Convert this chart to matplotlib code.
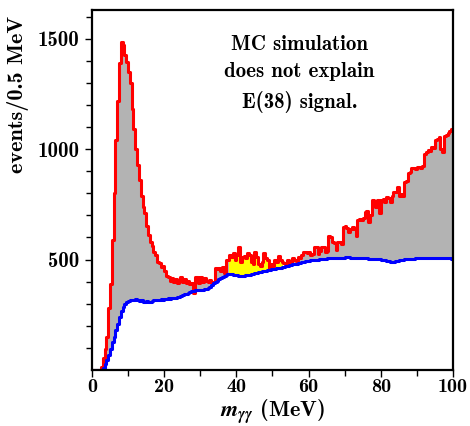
import matplotlib

matplotlib.use("Agg")
import matplotlib.pyplot as plt
import numpy as np

# histogram, 0.5 MeV bins from 0 to 100 MeV
BIN_WIDTH = 0.5
edges = np.arange(0, 100 + BIN_WIDTH, BIN_WIDTH)

data_counts = [
    # 0-10
    0, 0, 0, 0, 0, 15, 55, 95, 150, 280, 390, 590, 800, 1040, 1220, 1390, 1485, 1470, 1425, 1395,
    # 10-20
    1350, 1300, 1180, 1090, 1000, 930, 860, 790, 740, 710, 650, 610, 580, 560, 535, 520, 490, 485, 468, 470,
    # 20-30
    450, 425, 420, 405, 418, 400, 412, 395, 408, 420, 398, 410, 395, 402, 390, 395, 350, 420, 422, 395,
    # 30-40
    420, 400, 415, 405, 400, 408, 398, 400, 462, 455, 462, 450, 465, 440, 500, 498, 520, 510, 530, 500,
    # 40-50
    520, 555, 490, 512, 515, 505, 530, 520, 490, 480, 535, 510, 478, 470, 490, 530, 505, 498, 455, 480,
    # 50-60
    470, 500, 490, 515, 500, 490, 485, 480, 500, 476, 490, 505, 500, 495, 510, 505, 520, 535, 535, 530,
    # 60-70
    535, 520, 525, 558, 555, 525, 540, 558, 556, 535, 540, 605, 600, 580, 575, 545, 580, 578, 570, 648,
    # 70-80
    650, 645, 625, 640, 648, 640, 605, 680, 685, 680, 690, 715, 718, 670, 700, 770, 765, 740, 770, 710,
    # 80-90
    770, 775, 760, 785, 780, 760, 790, 805, 808, 830, 790, 795, 790, 850, 855, 890, 895, 915, 915, 910,
    # 90-100
    918, 920, 915, 922, 980, 985, 995, 990, 1010, 1005, 1040, 1045, 1055, 1000, 985, 1060, 1065, 1075, 1080, 1090,
]

mc_counts = [
    # 0-10
    0, 0, 0, 0, 0, 0, 8, 25, 45, 70, 95, 125, 150, 180, 210, 240, 265, 285, 298, 308,
    # 10-20
    312, 315, 318, 315, 320, 316, 312, 315, 310, 308, 312, 308, 310, 313, 315, 316, 318, 316, 320, 318,
    # 20-30
    322, 320, 324, 322, 325, 326, 328, 330, 332, 335, 340, 344, 346, 350, 354, 356, 358, 360, 362, 364,
    # 30-40
    362, 364, 366, 368, 372, 378, 385, 392, 398, 404, 410, 416, 420, 425, 430, 433, 436, 435, 432, 430,
    # 40-50
    428, 426, 425, 424, 425, 428, 430, 432, 434, 436, 438, 440, 442, 444, 446, 448, 450, 452, 453, 455,
    # 50-60
    456, 458, 460, 462, 464, 466, 468, 470, 472, 474, 476, 478, 480, 482, 484, 486, 488, 490, 492, 494,
    # 60-70
    495, 496, 497, 498, 499, 500, 501, 502, 503, 504, 505, 506, 506, 507, 507, 508, 508, 508, 509, 509,
    # 70-80
    510, 510, 510, 509, 509, 508, 508, 507, 507, 506, 506, 505, 505, 504, 504, 503, 503, 502, 502, 501,
    # 80-90
    500, 498, 496, 494, 492, 490, 490, 491, 493, 495, 496, 498, 500, 501, 502, 503, 503, 504, 504, 505,
    # 90-100
    505, 506, 506, 507, 507, 508, 508, 509, 508, 508, 507, 507, 508, 508, 508, 507, 506, 505, 505, 504,
]

SIGNAL_RANGE = (38.0, 53.0)  # excess region highlighted in yellow

plt.rcParams["font.family"] = ["cmb10", "DejaVu Serif"]
plt.rcParams["mathtext.fontset"] = "custom"
plt.rcParams["mathtext.rm"] = "cmb10"
plt.rcParams["mathtext.it"] = "STIXGeneral:italic:bold"
plt.rcParams["axes.unicode_minus"] = False

data = np.append(np.array(data_counts, float), data_counts[-1])
mc = np.append(np.array(mc_counts, float), mc_counts[-1])

fig = plt.figure(figsize=(4.70, 4.26), dpi=100)
ax = fig.add_axes([0.1957, 0.1315, 0.7681, 0.8450])

in_sig = (edges >= SIGNAL_RANGE[0]) & (edges <= SIGNAL_RANGE[1])
ax.fill_between(edges, mc, data, where=~in_sig | (edges == SIGNAL_RANGE[0]),
                step="post", color="#b3b3b3", linewidth=0)
ax.fill_between(edges, mc, data, where=in_sig, step="post",
                color="#ffff00", linewidth=0)
ax.step(edges, data, where="post", color="#ff0000", linewidth=2.2)
ax.step(edges, mc, where="post", color="#0000ff", linewidth=2.2)

ax.set_xlim(0, 100)
ax.set_ylim(0, 1630)
ax.set_xticks(np.arange(0, 101, 20))
ax.set_xticks(np.arange(0, 101, 10), minor=True)
ax.set_yticks([500, 1000, 1500])
ax.set_yticks(np.arange(100, 1601, 100), minor=True)
ax.tick_params(which="both", direction="out", top=False, right=False,
               labelsize=15, width=1.0)
ax.tick_params(which="major", length=5)
ax.tick_params(axis="x", which="major", pad=1, labelsize=14.5)
ax.tick_params(axis="y", which="major", pad=4)
ax.tick_params(which="minor", length=4)
for s in ax.spines.values():
    s.set_linewidth(1.6)

ax.set_xlabel(r"$m_{\gamma\gamma}$ (MeV)", fontsize=16)
ax.xaxis.set_label_coords(0.5, -0.076)
ax.set_ylabel("events/0.5 MeV", fontsize=16, labelpad=6, loc="top")
ax.yaxis.label.set_y(0.985)

ax.text(0.575, 0.93, "MC simulation\ndoes not explain\nE(38) signal.",
        transform=ax.transAxes, ha="center", va="top", fontsize=15,
        linespacing=1.55)

fig.savefig("out.png", dpi=100)
